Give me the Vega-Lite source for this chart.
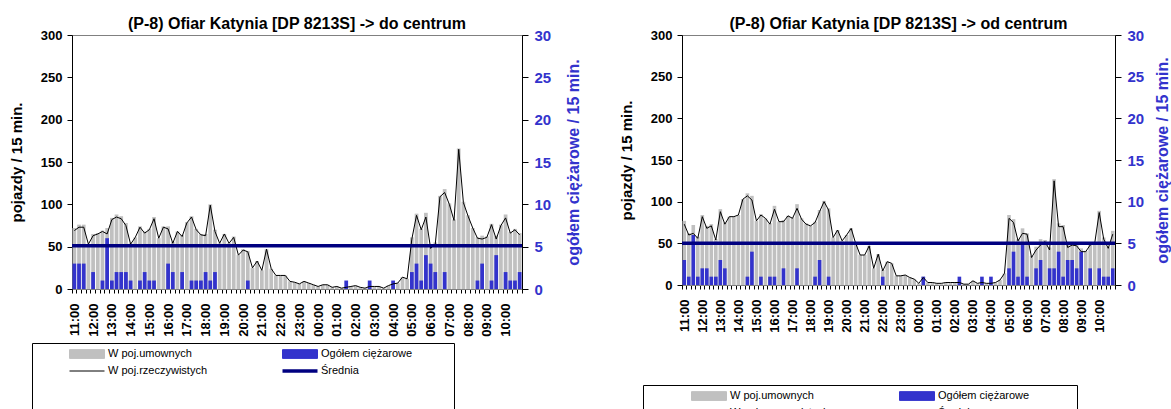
{
  "$schema": "https://vega.github.io/schema/vega-lite/v6.json",
  "background": "white",
  "padding": {"left": 8, "top": 15, "right": 0, "bottom": 0},
  "spacing": 35,
  "datasets": {
    "do": [
      {"t":"11:00","umowne":72,"rzecz":69,"ciez":3},{"t":"11:15","umowne":76,"rzecz":73,"ciez":3},{"t":"11:30","umowne":76,"rzecz":73,"ciez":3},{"t":"11:45","umowne":53,"rzecz":53,"ciez":0},
      {"t":"12:00","umowne":65,"rzecz":63,"ciez":2},{"t":"12:15","umowne":66,"rzecz":65,"ciez":0},{"t":"12:30","umowne":69,"rzecz":68,"ciez":1},{"t":"12:45","umowne":72,"rzecz":65,"ciez":6},
      {"t":"13:00","umowne":84,"rzecz":82,"ciez":1},{"t":"13:15","umowne":88,"rzecz":85,"ciez":2},{"t":"13:30","umowne":86,"rzecz":83,"ciez":2},{"t":"13:45","umowne":78,"rzecz":75,"ciez":2},
      {"t":"14:00","umowne":54,"rzecz":53,"ciez":1},{"t":"14:15","umowne":61,"rzecz":61,"ciez":0},{"t":"14:30","umowne":74,"rzecz":73,"ciez":1},{"t":"14:45","umowne":68,"rzecz":66,"ciez":2},
      {"t":"15:00","umowne":71,"rzecz":70,"ciez":1},{"t":"15:15","umowne":85,"rzecz":83,"ciez":1},{"t":"15:30","umowne":60,"rzecz":60,"ciez":0},{"t":"15:45","umowne":74,"rzecz":73,"ciez":0},
      {"t":"16:00","umowne":74,"rzecz":71,"ciez":3},{"t":"16:15","umowne":56,"rzecz":54,"ciez":2},{"t":"16:30","umowne":68,"rzecz":68,"ciez":0},{"t":"16:45","umowne":64,"rzecz":62,"ciez":2},
      {"t":"17:00","umowne":79,"rzecz":78,"ciez":0},{"t":"17:15","umowne":86,"rzecz":85,"ciez":1},{"t":"17:30","umowne":71,"rzecz":70,"ciez":1},{"t":"17:45","umowne":65,"rzecz":64,"ciez":1},
      {"t":"18:00","umowne":65,"rzecz":63,"ciez":2},{"t":"18:15","umowne":100,"rzecz":99,"ciez":1},{"t":"18:30","umowne":70,"rzecz":68,"ciez":2},{"t":"18:45","umowne":54,"rzecz":54,"ciez":0},
      {"t":"19:00","umowne":65,"rzecz":65,"ciez":0},{"t":"19:15","umowne":54,"rzecz":54,"ciez":0},{"t":"19:30","umowne":62,"rzecz":61,"ciez":0},{"t":"19:45","umowne":40,"rzecz":40,"ciez":0},
      {"t":"20:00","umowne":47,"rzecz":46,"ciez":0},{"t":"20:15","umowne":45,"rzecz":44,"ciez":1},{"t":"20:30","umowne":25,"rzecz":25,"ciez":0},{"t":"20:45","umowne":33,"rzecz":33,"ciez":0},
      {"t":"21:00","umowne":22,"rzecz":22,"ciez":0},{"t":"21:15","umowne":47,"rzecz":47,"ciez":0},{"t":"21:30","umowne":24,"rzecz":24,"ciez":0},{"t":"21:45","umowne":16,"rzecz":16,"ciez":0},
      {"t":"22:00","umowne":16,"rzecz":16,"ciez":0},{"t":"22:15","umowne":16,"rzecz":16,"ciez":0},{"t":"22:30","umowne":9,"rzecz":9,"ciez":0},{"t":"22:45","umowne":8,"rzecz":8,"ciez":0},
      {"t":"23:00","umowne":6,"rzecz":6,"ciez":0},{"t":"23:15","umowne":9,"rzecz":9,"ciez":0},{"t":"23:30","umowne":7,"rzecz":7,"ciez":0},{"t":"23:45","umowne":5,"rzecz":5,"ciez":0},
      {"t":"00:00","umowne":3,"rzecz":3,"ciez":0},{"t":"00:15","umowne":5,"rzecz":5,"ciez":0},{"t":"00:30","umowne":5,"rzecz":5,"ciez":0},{"t":"00:45","umowne":2,"rzecz":2,"ciez":0},
      {"t":"01:00","umowne":3,"rzecz":3,"ciez":0},{"t":"01:15","umowne":1,"rzecz":1,"ciez":0},{"t":"01:30","umowne":3,"rzecz":2,"ciez":1},{"t":"01:45","umowne":3,"rzecz":3,"ciez":0},
      {"t":"02:00","umowne":4,"rzecz":4,"ciez":0},{"t":"02:15","umowne":2,"rzecz":2,"ciez":0},{"t":"02:30","umowne":1,"rzecz":1,"ciez":0},{"t":"02:45","umowne":4,"rzecz":3,"ciez":1},
      {"t":"03:00","umowne":3,"rzecz":3,"ciez":0},{"t":"03:15","umowne":3,"rzecz":3,"ciez":0},{"t":"03:30","umowne":1,"rzecz":1,"ciez":0},{"t":"03:45","umowne":4,"rzecz":4,"ciez":0},
      {"t":"04:00","umowne":7,"rzecz":6,"ciez":1},{"t":"04:15","umowne":7,"rzecz":7,"ciez":0},{"t":"04:30","umowne":14,"rzecz":14,"ciez":0},{"t":"04:45","umowne":12,"rzecz":12,"ciez":0},
      {"t":"05:00","umowne":61,"rzecz":59,"ciez":2},{"t":"05:15","umowne":89,"rzecz":87,"ciez":3},{"t":"05:30","umowne":71,"rzecz":70,"ciez":1},{"t":"05:45","umowne":90,"rzecz":85,"ciez":4},
      {"t":"06:00","umowne":52,"rzecz":48,"ciez":3},{"t":"06:15","umowne":55,"rzecz":53,"ciez":2},{"t":"06:30","umowne":110,"rzecz":109,"ciez":0},{"t":"06:45","umowne":118,"rzecz":114,"ciez":2},
      {"t":"07:00","umowne":101,"rzecz":100,"ciez":0},{"t":"07:15","umowne":82,"rzecz":81,"ciez":0},{"t":"07:30","umowne":166,"rzecz":165,"ciez":0},{"t":"07:45","umowne":103,"rzecz":102,"ciez":0},
      {"t":"08:00","umowne":87,"rzecz":86,"ciez":0},{"t":"08:15","umowne":72,"rzecz":72,"ciez":0},{"t":"08:30","umowne":61,"rzecz":60,"ciez":1},{"t":"08:45","umowne":63,"rzecz":59,"ciez":3},
      {"t":"09:00","umowne":62,"rzecz":61,"ciez":0},{"t":"09:15","umowne":77,"rzecz":76,"ciez":1},{"t":"09:30","umowne":63,"rzecz":59,"ciez":4},{"t":"09:45","umowne":76,"rzecz":75,"ciez":0},
      {"t":"10:00","umowne":88,"rzecz":84,"ciez":2},{"t":"10:15","umowne":67,"rzecz":66,"ciez":1},{"t":"10:30","umowne":71,"rzecz":70,"ciez":1},{"t":"10:45","umowne":66,"rzecz":64,"ciez":2}
    ],
    "od": [
      {"t":"11:00","umowne":77,"rzecz":73,"ciez":3},{"t":"11:15","umowne":62,"rzecz":60,"ciez":1},{"t":"11:30","umowne":72,"rzecz":62,"ciez":6},{"t":"11:45","umowne":58,"rzecz":56,"ciez":1},
      {"t":"12:00","umowne":84,"rzecz":82,"ciez":2},{"t":"12:15","umowne":71,"rzecz":68,"ciez":2},{"t":"12:30","umowne":73,"rzecz":71,"ciez":1},{"t":"12:45","umowne":55,"rzecz":54,"ciez":1},
      {"t":"13:00","umowne":91,"rzecz":88,"ciez":3},{"t":"13:15","umowne":75,"rzecz":73,"ciez":2},{"t":"13:30","umowne":82,"rzecz":82,"ciez":0},{"t":"13:45","umowne":82,"rzecz":82,"ciez":0},
      {"t":"14:00","umowne":84,"rzecz":84,"ciez":0},{"t":"14:15","umowne":103,"rzecz":103,"ciez":0},{"t":"14:30","umowne":110,"rzecz":107,"ciez":1},{"t":"14:45","umowne":107,"rzecz":102,"ciez":4},
      {"t":"15:00","umowne":77,"rzecz":77,"ciez":0},{"t":"15:15","umowne":85,"rzecz":84,"ciez":1},{"t":"15:30","umowne":80,"rzecz":80,"ciez":0},{"t":"15:45","umowne":74,"rzecz":73,"ciez":1},
      {"t":"16:00","umowne":95,"rzecz":91,"ciez":1},{"t":"16:15","umowne":76,"rzecz":76,"ciez":0},{"t":"16:30","umowne":78,"rzecz":76,"ciez":2},{"t":"16:45","umowne":83,"rzecz":83,"ciez":0},
      {"t":"17:00","umowne":81,"rzecz":80,"ciez":0},{"t":"17:15","umowne":97,"rzecz":92,"ciez":2},{"t":"17:30","umowne":80,"rzecz":79,"ciez":0},{"t":"17:45","umowne":74,"rzecz":73,"ciez":0},
      {"t":"18:00","umowne":71,"rzecz":71,"ciez":0},{"t":"18:15","umowne":76,"rzecz":75,"ciez":1},{"t":"18:30","umowne":90,"rzecz":88,"ciez":3},{"t":"18:45","umowne":101,"rzecz":100,"ciez":0},
      {"t":"19:00","umowne":92,"rzecz":90,"ciez":1},{"t":"19:15","umowne":57,"rzecz":57,"ciez":0},{"t":"19:30","umowne":66,"rzecz":66,"ciez":0},{"t":"19:45","umowne":53,"rzecz":53,"ciez":0},
      {"t":"20:00","umowne":60,"rzecz":60,"ciez":0},{"t":"20:15","umowne":68,"rzecz":68,"ciez":0},{"t":"20:30","umowne":50,"rzecz":50,"ciez":0},{"t":"20:45","umowne":36,"rzecz":36,"ciez":0},
      {"t":"21:00","umowne":36,"rzecz":36,"ciez":0},{"t":"21:15","umowne":47,"rzecz":47,"ciez":0},{"t":"21:30","umowne":20,"rzecz":20,"ciez":0},{"t":"21:45","umowne":37,"rzecz":37,"ciez":0},
      {"t":"22:00","umowne":18,"rzecz":17,"ciez":1},{"t":"22:15","umowne":28,"rzecz":28,"ciez":0},{"t":"22:30","umowne":26,"rzecz":26,"ciez":0},{"t":"22:45","umowne":11,"rzecz":11,"ciez":0},
      {"t":"23:00","umowne":11,"rzecz":11,"ciez":0},{"t":"23:15","umowne":12,"rzecz":12,"ciez":0},{"t":"23:30","umowne":9,"rzecz":9,"ciez":0},{"t":"23:45","umowne":7,"rzecz":7,"ciez":0},
      {"t":"00:00","umowne":2,"rzecz":2,"ciez":0},{"t":"00:15","umowne":10,"rzecz":9,"ciez":1},{"t":"00:30","umowne":3,"rzecz":3,"ciez":0},{"t":"00:45","umowne":3,"rzecz":3,"ciez":0},
      {"t":"01:00","umowne":2,"rzecz":2,"ciez":0},{"t":"01:15","umowne":2,"rzecz":2,"ciez":0},{"t":"01:30","umowne":3,"rzecz":3,"ciez":0},{"t":"01:45","umowne":3,"rzecz":3,"ciez":0},
      {"t":"02:00","umowne":3,"rzecz":3,"ciez":0},{"t":"02:15","umowne":4,"rzecz":3,"ciez":1},{"t":"02:30","umowne":1,"rzecz":1,"ciez":0},{"t":"02:45","umowne":1,"rzecz":1,"ciez":0},
      {"t":"03:00","umowne":5,"rzecz":5,"ciez":0},{"t":"03:15","umowne":2,"rzecz":2,"ciez":0},{"t":"03:30","umowne":4,"rzecz":3,"ciez":1},{"t":"03:45","umowne":2,"rzecz":2,"ciez":0},
      {"t":"04:00","umowne":3,"rzecz":2,"ciez":1},{"t":"04:15","umowne":3,"rzecz":3,"ciez":0},{"t":"04:30","umowne":6,"rzecz":6,"ciez":0},{"t":"04:45","umowne":14,"rzecz":14,"ciez":0},
      {"t":"05:00","umowne":84,"rzecz":80,"ciez":2},{"t":"05:15","umowne":79,"rzecz":75,"ciez":4},{"t":"05:30","umowne":55,"rzecz":53,"ciez":1},{"t":"05:45","umowne":68,"rzecz":62,"ciez":5},
      {"t":"06:00","umowne":62,"rzecz":61,"ciez":1},{"t":"06:15","umowne":35,"rzecz":33,"ciez":0},{"t":"06:30","umowne":46,"rzecz":42,"ciez":2},{"t":"06:45","umowne":55,"rzecz":48,"ciez":3},
      {"t":"07:00","umowne":54,"rzecz":52,"ciez":0},{"t":"07:15","umowne":45,"rzecz":42,"ciez":2},{"t":"07:30","umowne":127,"rzecz":125,"ciez":2},{"t":"07:45","umowne":74,"rzecz":70,"ciez":4},
      {"t":"08:00","umowne":72,"rzecz":70,"ciez":1},{"t":"08:15","umowne":48,"rzecz":45,"ciez":3},{"t":"08:30","umowne":51,"rzecz":48,"ciez":3},{"t":"08:45","umowne":49,"rzecz":47,"ciez":2},
      {"t":"09:00","umowne":44,"rzecz":40,"ciez":4},{"t":"09:15","umowne":41,"rzecz":40,"ciez":0},{"t":"09:30","umowne":50,"rzecz":48,"ciez":2},{"t":"09:45","umowne":51,"rzecz":50,"ciez":0},
      {"t":"10:00","umowne":89,"rzecz":87,"ciez":2},{"t":"10:15","umowne":57,"rzecz":55,"ciez":1},{"t":"10:30","umowne":46,"rzecz":44,"ciez":1},{"t":"10:45","umowne":65,"rzecz":61,"ciez":2}
    ],
    "sr_do": [{"srednia": 51}],
    "sr_od": [{"srednia": 50}]
  },
  "hconcat": [
    {
      "width": 450,
      "height": 254,
      "title": {"text": "(P-8) Ofiar Katynia [DP 8213S] -> do centrum"},
      "layer": [
        {
          "data": {"name": "do"},
          "mark": {"type": "bar"},
          "encoding": {
            "x": {"field": "t", "type": "ordinal", "sort": null, "scale": {"paddingInner": 0.2, "paddingOuter": 0.1},
                  "axis": {"title": null, "labelAngle": 270, "labelExpr": "slice(datum.label, 3) === '00' ? datum.label : ''", "labelOverlap": false, "tickBand": "extent", "tickSize": 4, "labelPadding": 10, "domainColor": "#808080", "labelFontSize": 13}},
            "y": {"field": "umowne", "type": "quantitative", "scale": {"domain": [0, 300], "nice": false},
                  "axis": {"title": "pojazdy / 15 min.", "values": [0,50,100,150,200,250,300], "tickSize": 5, "labelPadding": 5, "titlePadding": 16, "labelFontSize": 13, "titleFontSize": 15}},
            "color": {"datum": "W poj.umownych", "type": "nominal",
              "scale": {"domain": ["W poj.umownych", "W poj.rzeczywistych", "Ogółem ciężarowe", "Średnia"], "range": ["#C0C0C0", "#000000", "#3333CC", "#000080"]},
              "legend": {"orient": "none", "legendX": -40, "legendY": 308, "columns": 2, "title": null,
                "strokeColor": "black", "padding": 3, "symbolSize": 1225, "clipHeight": 16,
                "symbolOffset": 34, "labelOffset": 3, "columnPadding": 0, "rowPadding": 0,
                "labelFontSize": 11, "labelFontWeight": "normal", "labelColor": "black", "labelLimit": 300,
                "encode": {
                  "symbols": {"update": {
                    "shape": {"signal": "(datum.value === 'W poj.rzeczywistych' || datum.value === 'Średnia') ? 'stroke' : 'M-1,-0.25H1V0.25H-1Z'"},
                    "stroke": {"signal": "datum.value === 'Średnia' ? '#000080' : datum.value === 'W poj.rzeczywistych' ? '#000000' : 'transparent'"},
                    "strokeWidth": {"signal": "(datum.value === 'Średnia' ? 3.5 : 1)"},
                    "opacity": {"value": 1}
                  }},
                  "entries": {"update": {
                    "width": {"signal": "datum.index < 2 ? 213 : 203"},
                    "height": {"signal": "datum.index % 2 === 0 ? 17 : 60"}
                  }}
                }
              }
            }
          }
        },
        {
          "data": {"name": "do"},
          "mark": {"type": "bar"},
          "encoding": {
            "x": {"field": "t", "type": "ordinal", "sort": null},
            "y": {"field": "ciez", "type": "quantitative", "scale": {"domain": [0, 30], "nice": false},
                  "axis": {"orient": "right", "title": "ogółem ciężarowe / 15 min.", "values": [0,5,10,15,20,25,30], "tickSize": 6, "labelPadding": 6, "titlePadding": 31, "labelColor": "#3333CC", "titleColor": "#3333CC", "labelFontSize": 15, "titleFontSize": 16, "titleAngle": 270}},
            "color": {"datum": "Ogółem ciężarowe", "type": "nominal"}
          }
        },
        {
          "data": {"name": "do"},
          "mark": {"type": "line", "strokeWidth": 1},
          "encoding": {
            "x": {"field": "t", "type": "ordinal", "sort": null},
            "y": {"field": "rzecz", "type": "quantitative", "scale": {"domain": [0, 300], "nice": false}, "axis": null},
            "color": {"datum": "W poj.rzeczywistych", "type": "nominal"}
          }
        },
        {
          "data": {"name": "sr_do"},
          "mark": {"type": "rule", "strokeWidth": 3.5},
          "encoding": {
            "y": {"field": "srednia", "type": "quantitative", "scale": {"domain": [0, 300], "nice": false}, "axis": null},
            "color": {"datum": "Średnia", "type": "nominal"}
          }
        }
      ],
      "resolve": {"scale": {"y": "independent"}}
    },
    {
      "width": 433,
      "height": 250,
      "title": {"text": "(P-8) Ofiar Katynia [DP 8213S] -> od centrum"},
      "layer": [
        {
          "data": {"name": "od"},
          "mark": {"type": "bar"},
          "encoding": {
            "x": {"field": "t", "type": "ordinal", "sort": null, "scale": {"paddingInner": 0.2, "paddingOuter": 0.1},
                  "axis": {"title": null, "labelAngle": 270, "labelExpr": "slice(datum.label, 3) === '00' ? datum.label : ''", "labelOverlap": false, "tickBand": "extent", "tickSize": 4, "labelPadding": 10, "domainColor": "#808080", "labelFontSize": 13}},
            "y": {"field": "umowne", "type": "quantitative", "scale": {"domain": [0, 300], "nice": false},
                  "axis": {"title": "pojazdy / 15 min.", "values": [0,50,100,150,200,250,300], "tickSize": 5, "labelPadding": 5, "titlePadding": 16, "labelFontSize": 13, "titleFontSize": 15}},
            "color": {"datum": "W poj.umownych", "type": "nominal",
              "scale": {"domain": ["W poj.umownych", "W poj.rzeczywistych", "Ogółem ciężarowe", "Średnia"], "range": ["#C0C0C0", "#000000", "#3333CC", "#000080"]},
              "legend": {"orient": "none", "legendX": -39, "legendY": 350, "columns": 2, "title": null,
                "strokeColor": "black", "padding": 3, "symbolSize": 1225, "clipHeight": 16,
                "symbolOffset": 45, "labelOffset": 3, "columnPadding": 0, "rowPadding": 0,
                "labelFontSize": 11, "labelFontWeight": "normal", "labelColor": "black", "labelLimit": 300,
                "encode": {
                  "symbols": {"update": {
                    "shape": {"signal": "(datum.value === 'W poj.rzeczywistych' || datum.value === 'Średnia') ? 'stroke' : 'M-1,-0.25H1V0.25H-1Z'"},
                    "stroke": {"signal": "datum.value === 'Średnia' ? '#000080' : datum.value === 'W poj.rzeczywistych' ? '#000000' : 'transparent'"},
                    "strokeWidth": {"signal": "(datum.value === 'Średnia' ? 3.5 : 1)"},
                    "opacity": {"value": 1}
                  }},
                  "entries": {"update": {
                    "width": {"signal": "datum.index < 2 ? 208 : 220"},
                    "height": {"signal": "datum.index % 2 === 0 ? 17 : 60"}
                  }}
                }
              }
            }
          }
        },
        {
          "data": {"name": "od"},
          "mark": {"type": "bar"},
          "encoding": {
            "x": {"field": "t", "type": "ordinal", "sort": null},
            "y": {"field": "ciez", "type": "quantitative", "scale": {"domain": [0, 30], "nice": false},
                  "axis": {"orient": "right", "title": "ogółem ciężarowe / 15 min.", "values": [0,5,10,15,20,25,30], "tickSize": 6, "labelPadding": 6, "titlePadding": 27, "labelColor": "#3333CC", "titleColor": "#3333CC", "labelFontSize": 15, "titleFontSize": 16, "titleAngle": 270}},
            "color": {"datum": "Ogółem ciężarowe", "type": "nominal"}
          }
        },
        {
          "data": {"name": "od"},
          "mark": {"type": "line", "strokeWidth": 1},
          "encoding": {
            "x": {"field": "t", "type": "ordinal", "sort": null},
            "y": {"field": "rzecz", "type": "quantitative", "scale": {"domain": [0, 300], "nice": false}, "axis": null},
            "color": {"datum": "W poj.rzeczywistych", "type": "nominal"}
          }
        },
        {
          "data": {"name": "sr_od"},
          "mark": {"type": "rule", "strokeWidth": 3.5},
          "encoding": {
            "y": {"field": "srednia", "type": "quantitative", "scale": {"domain": [0, 300], "nice": false}, "axis": null},
            "color": {"datum": "Średnia", "type": "nominal"}
          }
        }
      ],
      "resolve": {"scale": {"y": "independent"}}
    }
  ],
  "resolve": {"scale": {"color": "independent"}, "legend": {"color": "independent"}},
  "config": {
    "font": "Liberation Sans",
    "view": {"stroke": "#808080", "strokeWidth": 1},
    "title": {"fontSize": 16, "fontWeight": "bold", "font": "Liberation Sans", "color": "black", "offset": -4},
    "axis": {"grid": false, "labelFont": "Liberation Sans", "titleFont": "Liberation Sans", "labelFontWeight": "bold", "titleFontWeight": "bold", "titleFontSize": 13, "domainColor": "black", "tickColor": "black", "labelColor": "black", "titleColor": "black"},
    "legend": {"labelFont": "Liberation Sans"}
  }
}
